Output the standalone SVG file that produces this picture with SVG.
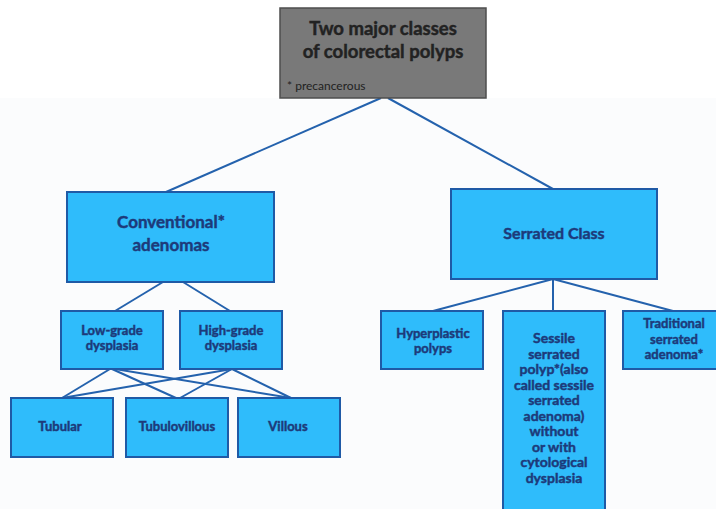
<svg xmlns="http://www.w3.org/2000/svg" width="716" height="509" viewBox="0 0 716 509">
<style>
.box{fill:#2fbcfb;stroke:#1f5aa6;stroke-width:2}
.t{font-family:Lato,"Open Sans",sans-serif;font-weight:bold;fill:#1d3a7a;stroke:#1d3a7a;stroke-width:0.45;text-anchor:middle}
.c line{stroke:#2462ad;stroke-width:2}
</style>
<rect x="0" y="0" width="716" height="509" fill="#ffffff"/>
<rect x="0" y="98" width="716" height="411" fill="#fbfcfd"/>
<g class="c">
<line x1="381" y1="98" x2="166" y2="192"/>
<line x1="388" y1="98" x2="553" y2="189"/>
<line x1="163" y1="282" x2="115" y2="311"/>
<line x1="183" y1="282" x2="230" y2="311"/>
<line x1="553" y1="279" x2="433" y2="311"/>
<line x1="553" y1="279" x2="553" y2="311"/>
<line x1="553" y1="279" x2="673" y2="311"/>
<line x1="110" y1="369" x2="62" y2="398"/>
<line x1="112" y1="369" x2="176" y2="398"/>
<line x1="115" y1="369" x2="291" y2="398"/>
<line x1="232" y1="369" x2="62" y2="398"/>
<line x1="232" y1="369" x2="180" y2="398"/>
<line x1="232" y1="369" x2="291" y2="398"/>
</g>
<g id="top">
<rect x="280" y="8" width="206" height="90" fill="#797979" stroke="#4e4e4e" stroke-width="1.5"/>
<text class="t" x="383" y="35" style="fill:#222;stroke:#222;font-size:18.5px">Two major classes</text>
<text class="t" x="383" y="58" style="fill:#222;stroke:#222;font-size:18.5px">of colorectal polyps</text>
<text x="287" y="90" font-family="Lato,'Open Sans',sans-serif" font-size="12" fill="#222">* precancerous</text>
</g>
<g id="conventional">
<rect class="box" x="67" y="192" width="207" height="90"/>
<text class="t" x="171" y="228" font-size="17">Conventional*</text>
<text class="t" x="171" y="251" font-size="17">adenomas</text>
</g>
<g id="serrated">
<rect class="box" x="451" y="189" width="206" height="90"/>
<text class="t" x="554" y="239" font-size="16">Serrated Class</text>
</g>
<g id="lowgrade">
<rect class="box" x="61" y="311" width="102" height="58"/>
<text class="t" x="112" y="335" font-size="13">Low-grade</text>
<text class="t" x="112" y="350" font-size="13">dysplasia</text>
</g>
<g id="highgrade">
<rect class="box" x="180" y="311" width="102" height="58"/>
<text class="t" x="231" y="335" font-size="13">High-grade</text>
<text class="t" x="231" y="350" font-size="13">dysplasia</text>
</g>
<g id="tubular">
<rect class="box" x="11" y="398" width="102" height="59"/>
<text class="t" x="60" y="431" font-size="13">Tubular</text>
</g>
<g id="tubulovillous">
<rect class="box" x="126" y="398" width="102" height="59"/>
<text class="t" x="177" y="431" font-size="13">Tubulovillous</text>
</g>
<g id="villous">
<rect class="box" x="238" y="398" width="102" height="59"/>
<text class="t" x="288" y="431" font-size="13">Villous</text>
</g>
<g id="hyperplastic">
<rect class="box" x="381" y="311" width="102" height="58"/>
<text class="t" x="433" y="338" font-size="13">Hyperplastic</text>
<text class="t" x="433" y="353" font-size="13">polyps</text>
</g>
<g id="sessile">
<rect class="box" x="503" y="311" width="102" height="210"/>
<text class="t" x="554" y="343" font-size="14">Sessile</text>
<text class="t" x="554" y="358.5" font-size="14">serrated</text>
<text class="t" x="554" y="374" font-size="14">polyp*(also</text>
<text class="t" x="554" y="389.5" font-size="14">called sessile</text>
<text class="t" x="554" y="405" font-size="14">serrated</text>
<text class="t" x="554" y="420.5" font-size="14">adenoma)</text>
<text class="t" x="554" y="436" font-size="14">without</text>
<text class="t" x="554" y="451.5" font-size="14">or with</text>
<text class="t" x="554" y="467" font-size="14">cytological</text>
<text class="t" x="554" y="482.5" font-size="14">dysplasia</text>
</g>
<g id="traditional">
<rect class="box" x="623" y="311" width="102" height="58"/>
<text class="t" x="674" y="328" font-size="13">Traditional</text>
<text class="t" x="674" y="343.5" font-size="13">serrated</text>
<text class="t" x="674" y="359" font-size="13">adenoma*</text>
</g>
</svg>
